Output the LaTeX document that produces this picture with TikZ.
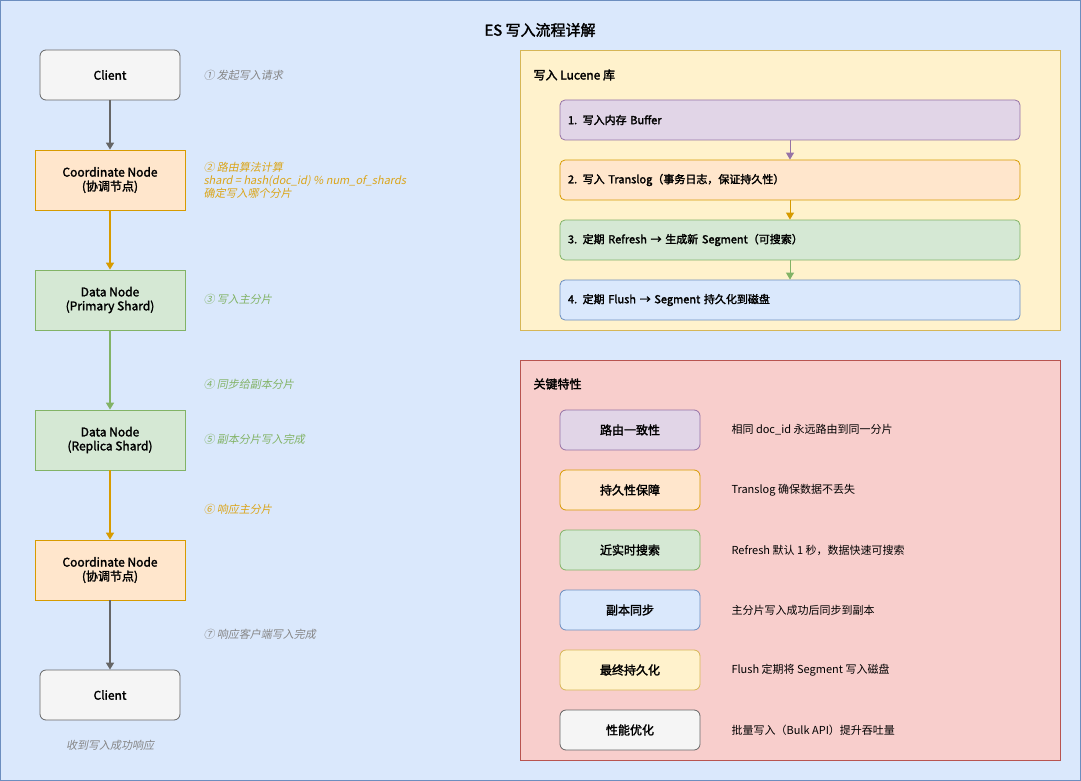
\documentclass[tikz,border=0pt]{standalone}
\usepackage{fontspec}
\setmainfont{Noto Sans CJK SC}[AutoFakeSlant=0.2,AutoFakeBold=2]
\usetikzlibrary{arrows.meta}
\definecolor{bgF}{HTML}{DAE8FC}\definecolor{bgD}{HTML}{6C8EBF}
\definecolor{grF}{HTML}{F5F5F5}\definecolor{grD}{HTML}{666666}
\definecolor{orF}{HTML}{FFE6CC}\definecolor{orD}{HTML}{D79B00}
\definecolor{gnF}{HTML}{D5E8D4}\definecolor{gnD}{HTML}{82B366}
\definecolor{puF}{HTML}{E1D5E7}\definecolor{puD}{HTML}{9673A6}
\definecolor{yeF}{HTML}{FFF2CC}\definecolor{yeD}{HTML}{D6B656}
\definecolor{rdF}{HTML}{F8CECC}\definecolor{rdD}{HTML}{B85450}
\begin{document}
\begin{tikzpicture}[x=1pt,y=-1pt,
 box/.style={draw=#1D,fill=#1F,line width=0.8pt,minimum height=60pt,minimum width=150pt,align=center,font=\fontsize{12}{14}\selectfont\bfseries},
 rbox/.style={box=#1,rounded corners=6pt,minimum height=50pt,minimum width=140pt},
 step/.style={draw=#1D,fill=#1F,line width=0.8pt,rounded corners=5pt,minimum height=40pt,minimum width=460pt,text width=444pt,align=left,font=\fontsize{11}{13}\selectfont\bfseries},
 feat/.style={draw=#1D,fill=#1F,line width=0.8pt,rounded corners=6pt,minimum height=40pt,minimum width=140pt,font=\fontsize{12}{14}\selectfont\bfseries},
 ann/.style={anchor=west,align=left,text=#1,font=\fontsize{11}{13}\selectfont\itshape},
 desc/.style={anchor=west,font=\fontsize{11}{13}\selectfont},
 arr/.style={draw=#1,line width=1.5pt,-{Triangle[length=7pt,width=8pt]}}]
\useasboundingbox (0,0) rectangle (1081,781);
\draw[fill=bgF,draw=bgD] (0.5,0.5) rectangle (1080.5,780.5);
\node[font=\fontsize{15}{17}\selectfont\bfseries] (title) at (540,30) {ES 写入流程详解};
% left flow
\node[rbox=gr] (c1) at (110,75) {Client};
\node[box=or] (co1) at (110,180) {Coordinate Node\\(协调节点)};
\node[box=gn] (dp) at (110,300) {Data Node\\(Primary Shard)};
\node[box=gn] (dr) at (110,440) {Data Node\\(Replica Shard)};
\node[box=or] (co2) at (110,570) {Coordinate Node\\(协调节点)};
\node[rbox=gr] (c2) at (110,695) {Client};
\draw[arr=grD] (c1) -- (co1);
\draw[arr=orD] (co1) -- (dp);
\draw[arr=gnD] (dp) -- (dr);
\draw[arr=orD] (dr) -- (co2);
\draw[arr=grD] (co2) -- (c2);
\node[ann=grD!80] (a1) at (200,75) {① 发起写入请求};
\node[ann=orD!90, font=\fontsize{11}{13}\selectfont\itshape] (a2) at (200,180) {② 路由算法计算\\shard = hash(doc\_id) \% num\_of\_shards\\确定写入哪个分片};
\node[ann=gnD] (a3) at (200,299) {③ 写入主分片};
\node[ann=gnD] (a4) at (200,384) {④ 同步给副本分片};
\node[ann=gnD] (a5) at (200,439) {⑤ 副本分片写入完成};
\node[ann=orD!90] (a6) at (200,509) {⑥ 响应主分片};
\node[ann=grD!80] (a7) at (200,634) {⑦ 响应客户端写入完成};
\node[text=grD!80,font=\fontsize{11}{13}\selectfont\itshape] (a8) at (110,745) {收到写入成功响应};
% Lucene
\draw[fill=yeF,draw=yeD] (520,50) rectangle (1060,330);
\node[anchor=west,font=\fontsize{12}{14}\selectfont\bfseries] (lt) at (530,75) {写入 Lucene 库};
\node[step=pu] (s1) at (790,120) {1. 写入内存 Buffer};
\node[step=or] (s2) at (790,180) {2. 写入 Translog（事务日志，保证持久性）};
\node[step=gn] (s3) at (790,240) {3. 定期 Refresh → 生成新 Segment（可搜索）};
\node[step=bg] (s4) at (790,300) {4. 定期 Flush → Segment 持久化到磁盘};
\draw[arr=puD,line width=1pt] (s1) -- (s2);
\draw[arr=orD,line width=1pt] (s2) -- (s3);
\draw[arr=gnD,line width=1pt] (s3) -- (s4);
% features
\draw[fill=rdF,draw=rdD] (520,360) rectangle (1060,760);
\node[anchor=west,font=\fontsize{12}{14}\selectfont\bfseries] (ft) at (530,384) {关键特性};
\node[feat=pu] (f1) at (630,430) {路由一致性};
\node[feat=or] (f2) at (630,490) {持久性保障};
\node[feat=gn] (f3) at (630,550) {近实时搜索};
\node[feat=bg] (f4) at (630,610) {副本同步};
\node[feat=ye] (f5) at (630,670) {最终持久化};
\node[feat=gr] (f6) at (630,730) {性能优化};
\node[desc] (d1) at (728,430) {相同 doc\_id 永远路由到同一分片};
\node[desc] (d2) at (728,490) {Translog 确保数据不丢失};
\node[desc] (d3) at (728,550) {Refresh 默认 1 秒，数据快速可搜索};
\node[desc] (d4) at (728,610) {主分片写入成功后同步到副本};
\node[desc] (d5) at (728,670) {Flush 定期将 Segment 写入磁盘};
\node[desc] (d6) at (728,730) {批量写入（Bulk API）提升吞吐量};
\end{tikzpicture}
\end{document}
